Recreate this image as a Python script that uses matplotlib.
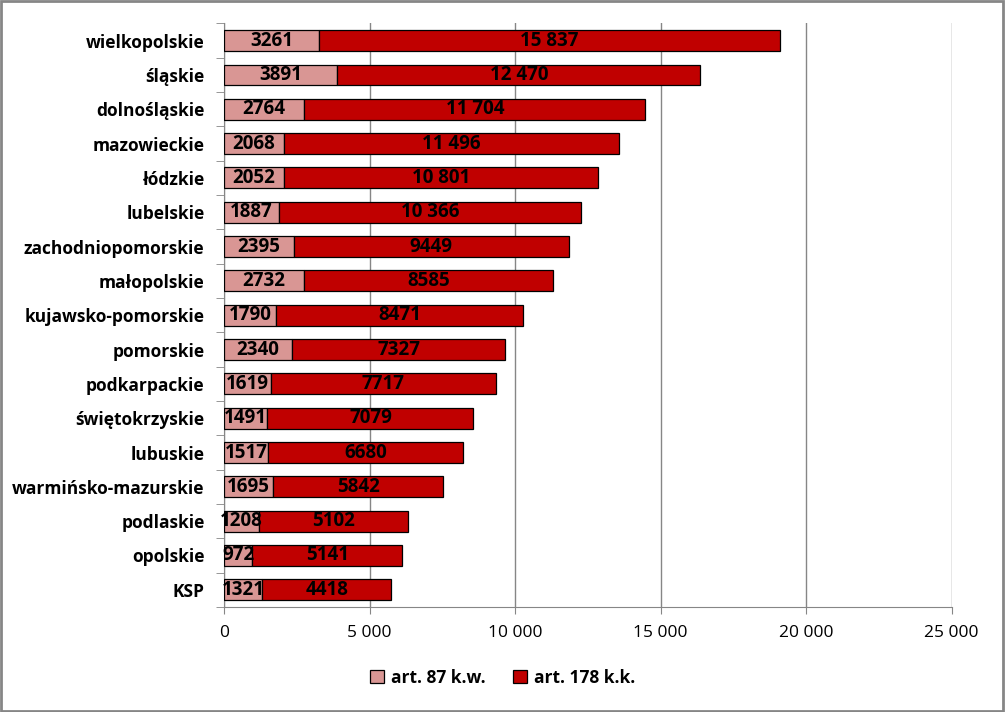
import numpy as np
import matplotlib.pyplot as plt
from matplotlib.ticker import FuncFormatter, FixedLocator

regions = ['wielkopolskie', 'śląskie', 'dolnośląskie', 'mazowieckie', 'łódzkie',
           'lubelskie', 'zachodniopomorskie', 'małopolskie', 'kujawsko-pomorskie',
           'pomorskie', 'podkarpackie', 'świętokrzyskie', 'lubuskie',
           'warmińsko-mazurskie', 'podlaskie', 'opolskie', 'KSP']
art87 = [3261, 3891, 2764, 2068, 2052, 1887, 2395, 2732, 1790, 2340, 1619,
         1491, 1517, 1695, 1208, 972, 1321]
art178 = [15837, 12470, 11704, 11496, 10801, 10366, 9449, 8585, 8471, 7327,
          7717, 7079, 6680, 5842, 5102, 5141, 4418]
series_names = ['art. 87 k.w.', 'art. 178 k.k.']

plt.rcParams['font.family'] = ['Open Sans', 'DejaVu Sans']


def fmt(v):
    return f'{int(v):,}'.replace(',', ' ') if v >= 10000 else str(int(v))


fig = plt.figure(figsize=(10.05, 7.12), dpi=100)
ax = fig.add_axes([0.2229, 0.1475, 0.7241, 0.8195])

y = np.arange(len(regions))
h = 0.61
b1 = ax.barh(y, art87, height=h, color='#D99694', edgecolor='black', linewidth=0.9,
             label=series_names[0], zorder=3)
b2 = ax.barh(y, art178, left=art87, height=h, color='#C00000', edgecolor='black',
             linewidth=0.9, label=series_names[1], zorder=3)

for i in range(len(regions)):
    ax.text(art87[i] / 2, y[i], fmt(art87[i]), ha='center', va='center',
            fontsize=13.5, fontweight='bold', color='black', zorder=4)
    ax.text(art87[i] + art178[i] / 2, y[i], fmt(art178[i]), ha='center', va='center',
            fontsize=13.5, fontweight='bold', color='black', zorder=4)

ax.set_xlim(0, 25000)
ax.set_ylim(len(regions) - 0.5, -0.5)
ax.set_xticks(np.arange(0, 25001, 5000))
ax.xaxis.set_major_formatter(FuncFormatter(lambda v, p: f'{int(v):,}'.replace(',', ' ')))
ax.tick_params(axis='x', labelsize=12.5, length=5, color='#868686', pad=8)
ax.grid(axis='x', color='#868686', linewidth=1, zorder=0)

ax.set_yticks(y)
ax.set_yticklabels(regions, fontsize=12.5, fontweight='bold')
ax.tick_params(axis='y', which='major', length=0, pad=14)
ax.yaxis.set_minor_locator(FixedLocator(np.arange(-0.5, len(regions), 1)))
ax.tick_params(axis='y', which='minor', length=6, color='#868686')

for s in ['top', 'right']:
    ax.spines[s].set_visible(False)
for s in ['left', 'bottom']:
    ax.spines[s].set_color('#868686')

fig.legend(handles=[b1, b2], loc='center', bbox_to_anchor=(0.5, 0.048), ncol=2,
           frameon=False, prop={'size': 12.5, 'weight': 'bold'}, handlelength=0.8,
           handleheight=0.8, handletextpad=0.4, columnspacing=1.6)

fig.patches.append(plt.Rectangle((0.001, 0.002), 0.997, 0.996, transform=fig.transFigure,
                                 fill=False, edgecolor='#868686', linewidth=2))

fig.savefig('out.png', dpi=100)
